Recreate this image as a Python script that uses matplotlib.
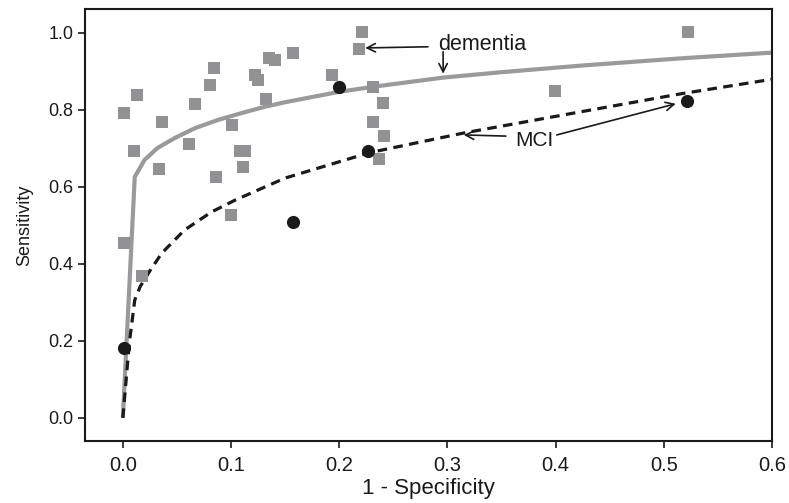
import numpy as np
import matplotlib
matplotlib.use("Agg")
import matplotlib.pyplot as plt

# study points, dementia (grey squares)
dem_x = [0.001, 0.001, 0.013, 0.010, 0.036, 0.033, 0.018, 0.061, 0.067, 0.081,
         0.084, 0.086, 0.101, 0.100, 0.108, 0.113, 0.111, 0.122, 0.125, 0.132,
         0.135, 0.141, 0.157, 0.193, 0.221, 0.218, 0.231, 0.240, 0.231, 0.241,
         0.237, 0.399, 0.522]
dem_y = [0.455, 0.792, 0.839, 0.694, 0.769, 0.647, 0.369, 0.712, 0.816, 0.865,
         0.909, 0.626, 0.761, 0.527, 0.694, 0.694, 0.652, 0.891, 0.878, 0.829,
         0.935, 0.930, 0.948, 0.891, 1.003, 0.958, 0.860, 0.818, 0.769, 0.732,
         0.673, 0.849, 1.002]

# study points, MCI (black dots)
mci_x = [0.001, 0.200, 0.227, 0.157, 0.521]
mci_y = [0.182, 0.860, 0.694, 0.509, 0.823]

# summary ROC curves
dem_curve_x = [0.0, 0.011, 0.020, 0.032, 0.048, 0.067, 0.088, 0.110, 0.131,
               0.150, 0.200, 0.231, 0.296, 0.350, 0.423, 0.516, 0.601]
dem_curve_y = [0.0, 0.626, 0.670, 0.701, 0.727, 0.753, 0.774, 0.792, 0.808,
               0.820, 0.847, 0.860, 0.884, 0.898, 0.915, 0.934, 0.949]
mci_curve_x = [0.0, 0.006, 0.011, 0.016, 0.025, 0.036, 0.057, 0.082, 0.104,
               0.125, 0.150, 0.228, 0.315, 0.423, 0.516, 0.601]
mci_curve_y = [0.0, 0.195, 0.306, 0.341, 0.382, 0.428, 0.488, 0.535, 0.566,
               0.592, 0.623, 0.689, 0.740, 0.795, 0.842, 0.880]

xticks = [0.0, 0.1, 0.2, 0.3, 0.4, 0.5, 0.6]
yticks = [0.0, 0.2, 0.4, 0.6, 0.8, 1.0]

plt.rcParams['font.family'] = ['Liberation Sans', 'DejaVu Sans']
ink = '#1a1a1a'

fig = plt.figure(figsize=(7.89, 5.03), dpi=100)
ax = fig.add_axes([0.1077, 0.1233, 0.8708, 0.8587])

ax.plot(dem_curve_x, dem_curve_y, color='#9a9a9c', lw=3.0, zorder=2,
        solid_capstyle='butt', solid_joinstyle='round')
ax.plot(mci_curve_x, mci_curve_y, color=ink, lw=2.3, zorder=3,
        dashes=(3.0, 2.0))
ax.scatter(dem_x, dem_y, marker='s', s=72, color='#929295', lw=0, zorder=4)
ax.scatter(mci_x, mci_y, marker='o', s=90, color=ink, lw=0, zorder=5)

ax.set_xlim(-0.035, 0.6)
ax.set_ylim(-0.06, 1.062)
ax.set_xticks(xticks)
ax.set_yticks(yticks)
ax.set_xticklabels(['%.1f' % v for v in xticks], fontsize=14.5, color=ink)
ax.set_yticklabels(['%.1f' % v for v in yticks], fontsize=13, color=ink)
ax.tick_params(direction='out', length=5, width=1.2, color=ink)
ax.tick_params(axis='x', pad=6)
for s in ax.spines.values():
    s.set_linewidth(1.5)
    s.set_color(ink)

ax.set_xlabel('1 - Specificity', fontsize=16, labelpad=2, color=ink)
ax.set_ylabel('Sensitivity', fontsize=13, labelpad=11, color=ink)

arrow = dict(arrowstyle='->', color=ink, lw=1.2, shrinkA=0, shrinkB=0,
             mutation_scale=15)
ax.text(0.291, 0.956, 'dementia', fontsize=15.5, va='baseline', ha='left', color=ink)
ax.annotate('', xy=(0.224, 0.961), xytext=(0.282, 0.964), arrowprops=arrow)
ax.annotate('', xy=(0.296, 0.894), xytext=(0.296, 0.951), arrowprops=arrow)

ax.text(0.380, 0.706, 'MCI', fontsize=15, va='baseline', ha='center', color=ink)
ax.annotate('', xy=(0.315, 0.735), xytext=(0.354, 0.732), arrowprops=arrow)
ax.annotate('', xy=(0.511, 0.816), xytext=(0.401, 0.735), arrowprops=arrow)

fig.savefig('out.png', dpi=100)
